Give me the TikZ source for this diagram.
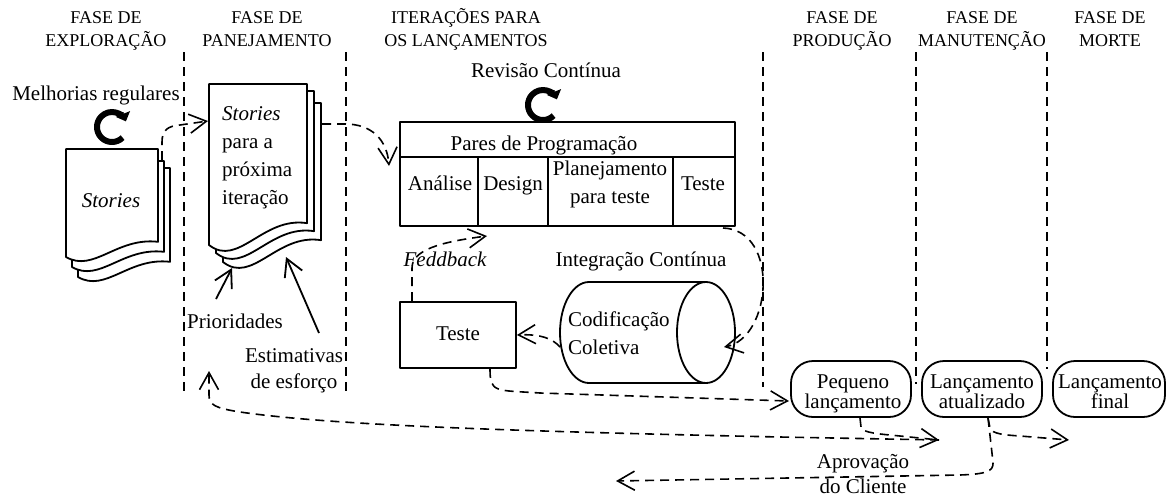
\documentclass[tikz,border=0pt]{standalone}
\usepackage{fontspec}
\setmainfont{Liberation Serif}
\usetikzlibrary{arrows.meta,calc}

% one sheet of a document stack: left, right, top, bottom-left, wave depth
\newcommand\docsheet[5]{%
  \draw[sheet] (#1,#3) -- (#2,#3) -- (#2,{#4-0.95*#5})
    .. controls ({#1+0.55*(#2-#1)},{#4-1.25*#5}) and ({#1+0.3*(#2-#1)},{#4+#5}) .. (#1,#4) -- cycle;}

\begin{document}
\begin{tikzpicture}[x=1pt,y=-1pt,line join=round,
  txt/.style={font=\fontsize{21}{28}\selectfont, inner sep=0pt, anchor=base},
  hdr/.style={font=\fontsize{18}{23}\selectfont, inner sep=0pt, anchor=base, align=center},
  box/.style={draw, line width=1.8pt, inner sep=0pt},
  sheet/.style={draw, line width=1.8pt, fill=white},
  phase/.style={line width=1.6pt, dash pattern=on 9pt off 6pt},
  flow/.style={line width=1.6pt, dash pattern=on 9pt off 6pt, -{Straight Barb[length=17pt,width=19pt]}},
  pointer/.style={line width=1.8pt, -{Straight Barb[length=17pt,width=19pt]}},
  cycle arrow/.style={line width=6pt, -{Triangle[length=8pt,width=15pt]}}]
\useasboundingbox (0,0) rectangle (1167,499);

% phase headers (multi-line nodes sit on their last baseline)
\node[hdr] (hExp)   at (106,46)  {FASE DE\\EXPLORAÇÃO};
\node[hdr] (hPlan)  at (267,46)  {FASE DE\\PANEJAMENTO};
\node[hdr] (hIter)  at (466,46)  {ITERAÇÕES PARA\\OS LANÇAMENTOS};
\node[hdr] (hProd)  at (842,46)  {FASE DE\\PRODUÇÃO};
\node[hdr] (hMan)   at (982,46)  {FASE DE\\MANUTENÇÃO};
\node[hdr] (hMorte) at (1110,46) {FASE DE\\MORTE};

% phase separators
\foreach \px/\py in {184/395, 346/395, 763/387, 916/384, 1047/369}
  \draw[phase] (\px,52) -- (\px,\py);

% exploration: stack of stories
\docsheet{78}{170}{168}{277}{16}
\docsheet{72}{164}{161}{267}{16}
\docsheet{66}{158}{149}{257}{16}
\node[txt] (storiesA) at (111,207) {\textit{Stories}};
\node[txt] (melh) at (96,100) {Melhorias regulares};
\draw[cycle arrow] (122.6,137.6) arc[start angle=45, end angle=338, radius=15];

% planning: stories for the next iteration
\docsheet{223}{321}{103}{262}{23}
\docsheet{216}{314}{91}{253}{23}
\docsheet{209}{307}{84}{245}{23}
\node[txt, align=left, anchor=base west] (storiesB) at (222,204)
  {\textit{Stories}\\para a\\próxima\\iteração};
\node[txt] (prio) at (235,328) {Prioridades};
\node[txt, align=center, font=\fontsize{21}{26}\selectfont] (estim) at (294,388) {Estimativas\\de esforço};
\coordinate (prioTail) at (216,299);
\coordinate (prioTip)  at (232,268);
\coordinate (estTail)  at (319,333);
\coordinate (estTip)   at (286,257);
\draw[pointer] (prioTail) -- (prioTip);
\draw[pointer] (estTail) -- (estTip);

% iterations: pair programming table
\node[txt] (revis) at (546,77) {Revisão Contínua};
\draw[cycle arrow] (553.6,115.6) arc[start angle=45, end angle=338, radius=15];
\node[box, minimum width=335, minimum height=35] (pares)    at (567.5,139.5) {};
\node[box, minimum width=78,  minimum height=69] (analise)  at (439,191.5) {};
\node[box, minimum width=70,  minimum height=69] (design)   at (513,191.5) {};
\node[box, minimum width=125, minimum height=69] (planej)   at (610.5,191.5) {};
\node[box, minimum width=62,  minimum height=69] (testeCol) at (704,191.5) {};
\node[txt] (paresT)   at (544,150) {Pares de Programação};
\node[txt] (analiseT) at (440,190) {Análise};
\node[txt] (designT)  at (513,190) {Design};
\node[txt, align=center] (planejT) at (610,203) {Planejamento\\para teste};
\node[txt] (testeColT) at (703,190) {Teste};

% test box and collective code
\node[box, minimum width=116, minimum height=66] (teste) at (458,335) {};
\node[txt] (testeT) at (458,340) {Teste};
\node[inner sep=0pt, minimum width=175, minimum height=101] (cod) at (647.5,332.5) {};
\draw[line width=1.8pt] (589,282) -- (706,282) (589,383) -- (706,383)
  (589,282) arc[start angle=270, end angle=90, x radius=29, y radius=50.5]
  (706,332.5) ellipse[x radius=29, y radius=50.5];
\node[txt, align=left, anchor=base west] (codT) at (568,354) {Codificação\\Coletiva};
\node[txt, font=\fontsize{21}{28}\selectfont\itshape] (feed) at (445,266) {Feddback};
\node[txt] (integ) at (641,266) {Integração Contínua};

% releases
\node[box, rounded corners=22pt, minimum width=120, minimum height=56] (peq) at (851,389) {};
\node[box, rounded corners=22pt, minimum width=120, minimum height=56] (atu) at (982,389) {};
\node[box, rounded corners=22pt, minimum width=112, minimum height=56] (fin) at (1109,389) {};
\node[txt, align=center, font=\fontsize{21}{20}\selectfont] (peqT) at (853,408) {Pequeno\\lançamento};
\node[txt, align=center, font=\fontsize{21}{20}\selectfont] (atuT) at (982,408) {Lançamento\\atualizado};
\node[txt, align=center, font=\fontsize{21}{20}\selectfont] (finT) at (1110,408) {Lançamento\\final};

% attachment points
\coordinate (docAout) at (162,160);
\coordinate (docBin)  at (208,121);
\coordinate (docBout) at (322,124);
\coordinate (paresIn) at (389,166);
\coordinate (feedIn)  at (487,236);
\coordinate (tabOut)  at (723,228);
\coordinate (codIn)   at (724,347);
\coordinate (codOut)  at (560,347);
\coordinate (peqIn)   at (789,401);
\coordinate (nextA)   at (939,440);
\coordinate (nextB)   at (1069,440);
\coordinate (backPlan) at (209,371);
\coordinate (client)  at (616,481);

% flows
\draw[flow] (docAout) -- (162,142) .. controls (162,130) and (168,126) .. (180,125) -- (docBin);
\draw[flow] (docBout) -- (345,124) .. controls (372,124) and (387,140) .. (paresIn);
\draw[flow] ($(teste.north)+(-46,0)$) -- (412,268) .. controls (412,250) and (440,242) .. (feedIn);
\draw[flow] (tabOut) .. controls (780,230) and (772,338) .. (codIn);
\draw[flow] (codOut) .. controls (552,338) and (540,334) .. (teste.east);
\draw[flow] ($(teste.south)+(32,0)$) .. controls (490,393) and (495,390) .. (540,393) -- (peqIn);
\draw[flow] ($(peq.south)+(9,0)$) -- (861,427) .. controls (862,433) and (880,434) .. (900,436) -- (nextA);
\draw[flow] (nextA) -- (780,437) .. controls (500,431) and (330,425) .. (240,412)
  .. controls (215,408) and (209,405) .. (209,395) -- (backPlan);
\draw[flow] ($(atu.south)+(6,0)$) -- (990,428) .. controls (992,434) and (1005,435) .. (1020,436) -- (nextB);
\draw[flow] ($(atu.south)+(6,0)$) -- (993,462) .. controls (994,472) and (985,474) .. (960,475) -- (client);
\node[txt, align=center, font=\fontsize{21}{25}\selectfont] (aprov) at (863,493) {Aprovação\\do Cliente};
\end{tikzpicture}
\end{document}
